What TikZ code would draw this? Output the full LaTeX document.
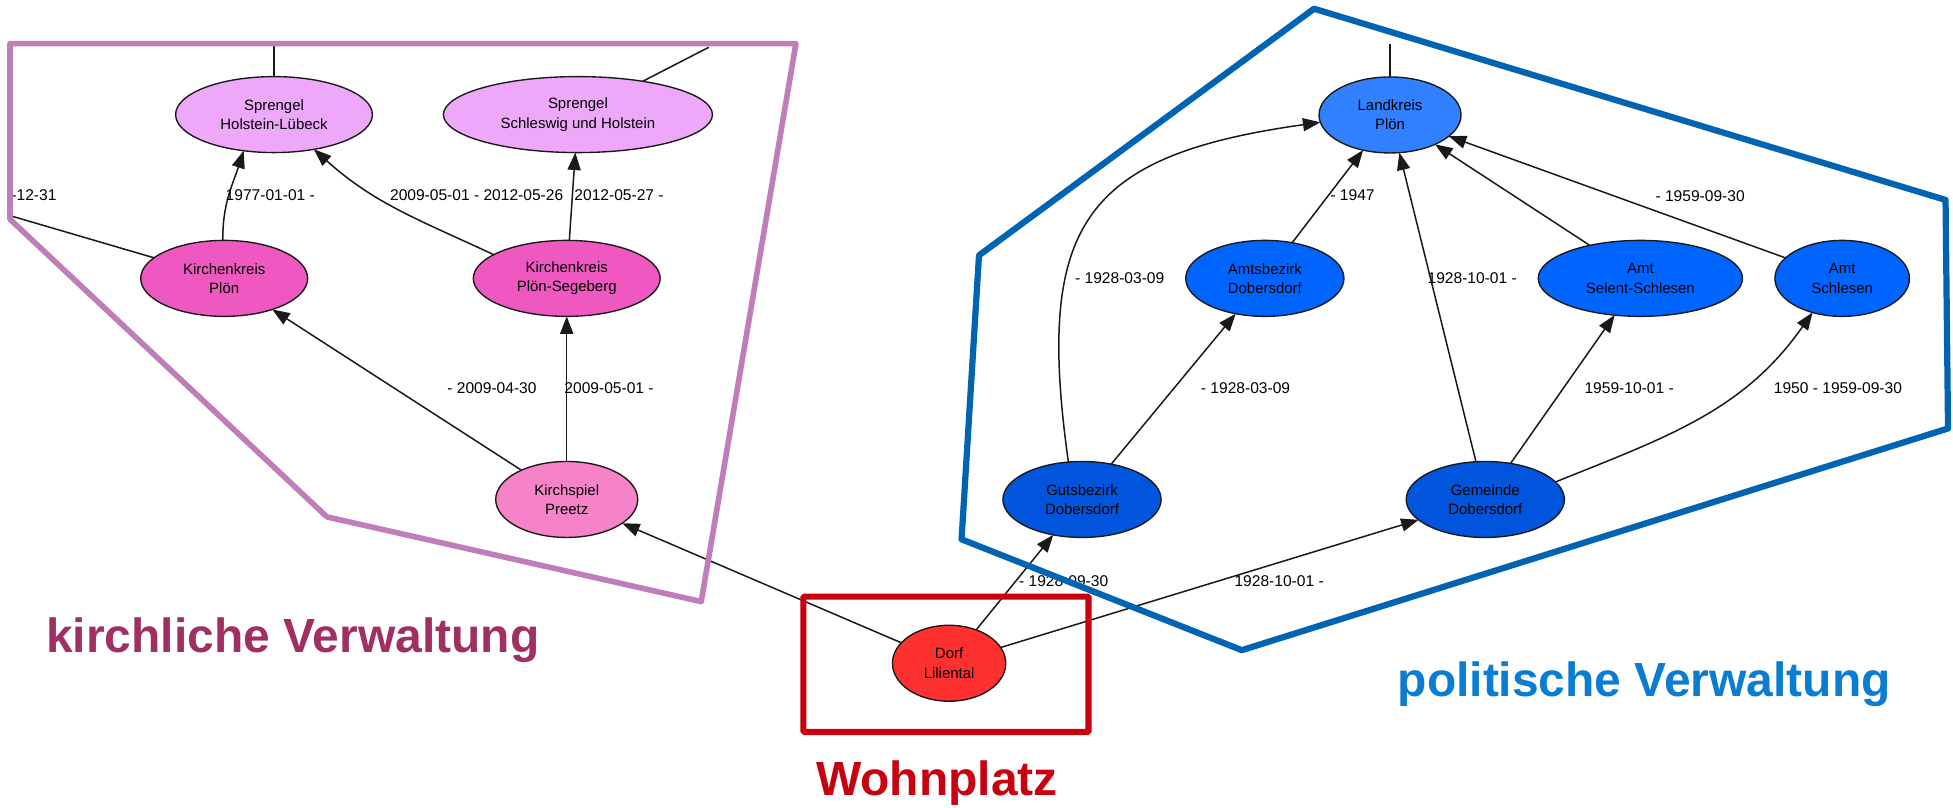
\documentclass[tikz,border=0pt]{standalone}
\usepackage{fontspec}
\setmainfont{Liberation Sans}
\usetikzlibrary{shapes.geometric,arrows.meta}
\definecolor{sprengelc}{RGB}{238,168,250}
\definecolor{kkreisc}{RGB}{238,88,192}
\definecolor{kspielc}{RGB}{246,130,200}
\definecolor{lkreisc}{RGB}{48,128,255}
\definecolor{amtc}{RGB}{0,100,255}
\definecolor{gemc}{RGB}{0,85,220}
\definecolor{dorfc}{RGB}{255,48,48}
\definecolor{kirchc}{RGB}{160,48,100}
\definecolor{politc}{RGB}{10,125,210}
\definecolor{wohnc}{RGB}{200,0,16}
\definecolor{purpframe}{RGB}{191,125,186}
\definecolor{blueframe}{RGB}{0,100,178}
\begin{document}
\begin{tikzpicture}[x=1pt,y=-1pt,
  ent/.style={ellipse, draw=black!90, line width=1.1pt, inner sep=0pt, outer sep=0pt, align=center, font=\fontsize{12}{15.5}\selectfont},
  edge/.style={draw=black!90, line width=1.2pt, -{Triangle[length=14pt,width=10.5pt]}},
  plainline/.style={draw=black!90, line width=1.2pt},
  lbl/.style={anchor=west, inner sep=0pt, font=\fontsize{12.5}{14}\selectfont},
  frameline/.style={line width=#1, line join=round},
  titletext/.style={anchor=base west, inner sep=0pt, font=\fontsize{38.5}{40}\selectfont\bfseries}
]
\useasboundingbox[fill=white] (0,0) rectangle (1568,648);

% church nodes
\node[ent, fill=sprengelc, minimum width=158pt, minimum height=61pt] (shl) at (220,92) {Sprengel\\Holstein-Lübeck};
\node[ent, fill=sprengelc, minimum width=216pt, minimum height=61pt] (shs) at (464,92) {Sprengel\\Schleswig und Holstein};
\node[ent, fill=kkreisc, minimum width=134pt, minimum height=61pt] (kkp) at (180,223.5) {Kirchenkreis\\Plön};
\node[ent, fill=kkreisc, minimum width=150pt, minimum height=61pt] (kks) at (455,223.5) {Kirchenkreis\\Plön-Segeberg};
\node[ent, fill=kspielc, minimum width=114pt, minimum height=61pt] (pre) at (455,401) {Kirchspiel\\Preetz};

% political nodes
\node[ent, fill=lkreisc, minimum width=114pt, minimum height=61pt] (lk) at (1116,92.3) {Landkreis\\Plön};
\node[ent, fill=amtc, minimum width=127pt, minimum height=61pt] (ab) at (1015.5,223.5) {Amtsbezirk\\Dobersdorf};
\node[ent, fill=amtc, minimum width=164pt, minimum height=61pt] (ass) at (1317,223.5) {Amt\\Selent-Schlesen};
\node[ent, fill=amtc, minimum width=108pt, minimum height=61pt] (as) at (1479,223.5) {Amt\\Schlesen};
\node[ent, fill=gemc, minimum width=127pt, minimum height=61pt] (gut) at (868.7,401) {Gutsbezirk\\Dobersdorf};
\node[ent, fill=gemc, minimum width=127pt, minimum height=61pt] (gem) at (1192.5,401) {Gemeinde\\Dobersdorf};

% village
\node[ent, fill=dorfc, minimum width=91pt, minimum height=61pt] (dorf) at (762,532.5) {Dorf\\Liliental};

% free ends
\coordinate (shlT) at (220,37);
\coordinate (shsT) at (569,38);
\coordinate (kkpL) at (9,173.4);
\coordinate (lkT) at (1116,35);

% church edges
\draw[plainline] (shl) -- (shlT);
\draw[plainline] (shs) -- (shsT);
\draw[plainline] (kkp) -- (kkpL);
\draw[edge] (kkp.92) to[out=91,in=-108] (shl.-130);
\draw[edge] (kks.162) to[out=155,in=-42] (shl.-41);
\draw[edge] (kks) -- (shs);
\draw[edge] (pre) -- (kkp);
\draw[edge] (pre) -- (kks);
\draw[edge] (dorf) -- (pre);

% political edges
\draw[plainline] (lk) -- (lkT);
\draw[edge] (gut.110) to[out=98,in=-172,looseness=1.45] (lk.186);
\draw[edge] (gut) -- (ab);
\draw[edge] (ab) -- (lk);
\draw[edge] (gem) -- (lk);
\draw[edge] (gem) -- (ass);
\draw[edge] (gem.14) to[out=22,in=-125] (as.-131);
\draw[edge] (ass) -- (lk);
\draw[edge] (as) -- (lk);
\draw[edge] (dorf) -- (gut);
\draw[edge] (dorf) -- (gem);

% edge labels
\node[lbl] (l1) at (9,157) {-12-31};
\node[lbl] (l2) at (181,157) {1977-01-01 -};
\node[lbl] (l3) at (313,157) {2009-05-01 - 2012-05-26};
\node[lbl] (l4) at (461,157) {2012-05-27 -};
\node[lbl] (l5) at (359,311.5) {- 2009-04-30};
\node[lbl] (l6) at (453,311.5) {2009-05-01 -};
\node[lbl] (l7) at (863,223) {- 1928-03-09};
\node[lbl] (l8) at (1068,157) {- 1947};
\node[lbl] (l9) at (1146,223.4) {1928-10-01 -};
\node[lbl] (l10) at (1329,157.4) {- 1959-09-30};
\node[lbl] (l11) at (964,311.5) {- 1928-03-09};
\node[lbl] (l12) at (1272,311.5) {1959-10-01 -};
\node[lbl] (l13) at (1424,311.5) {1950 - 1959-09-30};
\node[lbl] (l14) at (818,466.2) {- 1928-09-30};
\node[lbl] (l15) at (991,466.2) {1928-10-01 -};

% frames
\draw[frameline=4.5pt, draw=purpframe] (8,35) -- (639,35) -- (563,483) -- (262.5,415) -- (8,176) -- cycle;
\draw[frameline=5pt, draw=blueframe] (1055,7) -- (1562,160.5) -- (1564,344) -- (997,522) -- (772,433) -- (786,205) -- cycle;
\draw[line width=5pt, draw=wohnc, rounded corners=1pt] (645,479) rectangle (874,587.6);

% titles
\node[titletext, text=kirchc] (t1) at (37,524) {kirchliche Verwaltung};
\node[titletext, text=politc] (t2) at (1122,559) {politische Verwaltung};
\node[titletext, text=wohnc] (t3) at (655,639) {Wohnplatz};
\end{tikzpicture}
\end{document}
